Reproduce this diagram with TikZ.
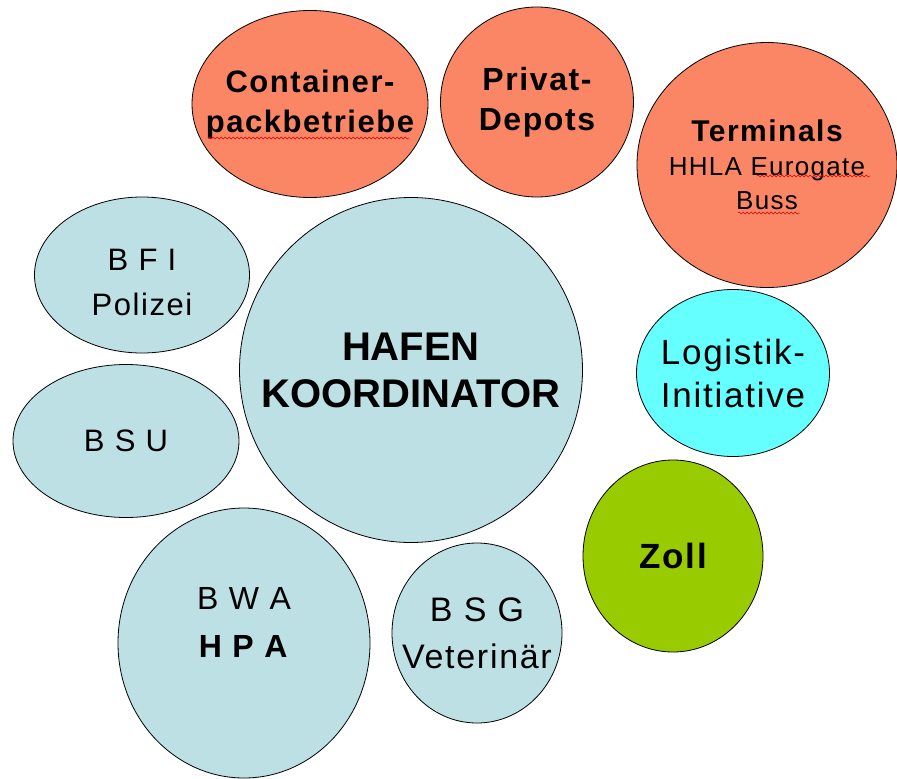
\documentclass[tikz,border=0pt]{standalone}
\usepackage{fontspec}
\setmainfont{Liberation Sans}[LetterSpace=5]
\newfontfamily\plainsans{Liberation Sans}
\usetikzlibrary{shapes.geometric,decorations.pathmorphing}

\definecolor{lachs}{RGB}{250,134,102}
\definecolor{hellblau}{RGB}{189,224,228}
\definecolor{tuerkis}{RGB}{102,255,255}
\definecolor{gruen}{RGB}{153,204,0}

\tikzset{
  bubble/.style={ellipse, draw=black, line width=0.8pt, inner sep=0pt, fill=#1},
  txt/.style={align=center, text=black, inner sep=0pt},
  squiggle/.style={red!85!black, line width=0.5pt, decorate,
    decoration={snake, segment length=4pt, amplitude=1pt}}
}

\begin{document}
\begin{tikzpicture}[x=1pt,y=-1pt]
  \useasboundingbox (0,0) rectangle (897,779);

  % outer ring, red
  \node[bubble=lachs, minimum width=236, minimum height=187] (cont) at (310,104) {};
  \node[bubble=lachs, minimum width=193, minimum height=190] (depot) at (537,102) {};
  \node[bubble=lachs, minimum width=260, minimum height=245] (term) at (767,165) {};

  % authorities
  \node[bubble=hellblau, minimum width=215, minimum height=156] (bfi) at (142,275) {};
  \node[bubble=hellblau, minimum width=226, minimum height=153] (bsu) at (126,441) {};
  \node[bubble=hellblau, minimum width=343, minimum height=345] (hafen) at (411,370) {};
  \node[bubble=hellblau, minimum width=252, minimum height=270] (bwa) at (244,643) {};
  \node[bubble=hellblau, minimum width=170, minimum height=180] (bsg) at (477,633) {};

  % right side
  \node[bubble=tuerkis, minimum width=193, minimum height=167] (logi) at (733,373) {};
  \node[bubble=gruen, minimum width=180, minimum height=192] (zoll) at (673,556) {};

  % labels
  \node[txt, font=\bfseries\fontsize{31}{40}\selectfont] (cont-t) at (cont) {Container-\\packbetriebe};
  \node[txt, font=\bfseries\fontsize{32}{40}\selectfont] (depot-t) at (depot) {Privat-\\Depots};
  \node[txt, font=\fontsize{26}{34}\selectfont] (term-t) at (term)
    {{\bfseries\fontsize{30}{36}\selectfont Terminals}\\HHLA Eurogate\\Buss};
  \node[txt, font=\fontsize{31}{45}\selectfont] (bfi-t) at (142,282) {B F I\\Polizei};
  \node[txt, font=\fontsize{31}{45}\selectfont] (bsu-t) at (bsu) {B S U};
  \node[txt, font=\plainsans\bfseries\fontsize{40}{47}\selectfont] (hafen-t) at (hafen) {HAFEN\\KOORDINATOR};
  \node[txt, font=\fontsize{32}{48}\selectfont] (bwa-t) at (244,622) {B W A\\\textbf{H P A}};
  \node[txt, font=\fontsize{34}{47}\selectfont] (bsg-t) at (bsg) {B S G\\Veterinär};
  \node[txt, font=\fontsize{35}{43}\selectfont] (logi-t) at (logi) {Logistik-\\Initiative};
  \node[txt, font=\bfseries\fontsize{35}{43}\selectfont] (zoll-t) at (zoll) {Zoll};

  % spell check marks
  \draw[squiggle] (208,138) -- (409,138);
  \draw[squiggle] (757,176) -- (870,176);
  \draw[squiggle] (738,213) -- (800,213);
\end{tikzpicture}
\end{document}
